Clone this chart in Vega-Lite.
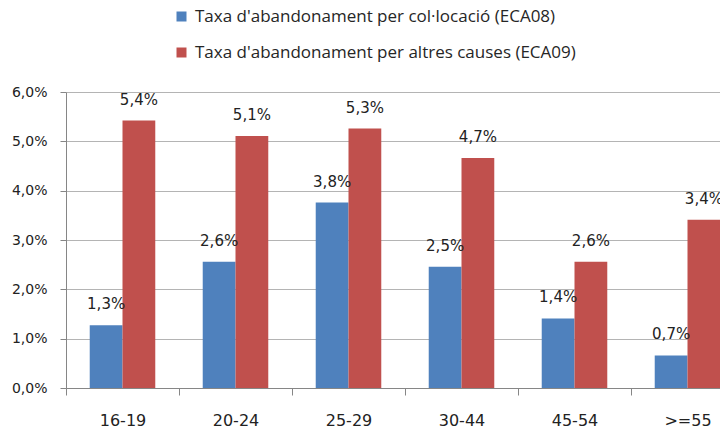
{
  "$schema": "https://vega.github.io/schema/vega-lite/v6.json",
  "width": 654,
  "height": 296,
  "autosize": {"type": "none"},
  "padding": {"left": 66, "top": 92, "right": 0, "bottom": 44},
  "background": "#ffffff",
  "config": {
    "locale": {"number": {"decimal": ",", "thousands": ".", "grouping": [3], "currency": ["", " €"]}},
    "view": {"stroke": null},
    "axis": {"labelFont": "DejaVu Sans", "labelColor": "#222222", "titleFont": "DejaVu Sans"}
  },
  "data": {
    "values": [
      {"edat": "16-19", "serie": "Taxa d'abandonament per col·locació (ECA08)", "valor": 0.0127},
      {"edat": "16-19", "serie": "Taxa d'abandonament per altres causes (ECA09)", "valor": 0.0542},
      {"edat": "20-24", "serie": "Taxa d'abandonament per col·locació (ECA08)", "valor": 0.0256},
      {"edat": "20-24", "serie": "Taxa d'abandonament per altres causes (ECA09)", "valor": 0.0511},
      {"edat": "25-29", "serie": "Taxa d'abandonament per col·locació (ECA08)", "valor": 0.0376},
      {"edat": "25-29", "serie": "Taxa d'abandonament per altres causes (ECA09)", "valor": 0.0526},
      {"edat": "30-44", "serie": "Taxa d'abandonament per col·locació (ECA08)", "valor": 0.0246},
      {"edat": "30-44", "serie": "Taxa d'abandonament per altres causes (ECA09)", "valor": 0.0466},
      {"edat": "45-54", "serie": "Taxa d'abandonament per col·locació (ECA08)", "valor": 0.0141},
      {"edat": "45-54", "serie": "Taxa d'abandonament per altres causes (ECA09)", "valor": 0.0256},
      {"edat": ">=55", "serie": "Taxa d'abandonament per col·locació (ECA08)", "valor": 0.0066},
      {"edat": ">=55", "serie": "Taxa d'abandonament per altres causes (ECA09)", "valor": 0.0341}
    ]
  },
  "encoding": {
    "x": {
      "field": "edat",
      "type": "nominal",
      "sort": ["16-19", "20-24", "25-29", "30-44", "45-54", ">=55"],
      "scale": {"range": [0, 678], "paddingInner": 0.42, "paddingOuter": 0.21},
      "axis": {
        "title": null,
        "labelAngle": 0,
        "labelFontSize": 16,
        "labelBaseline": "top",
        "labelPadding": 17,
        "tickSize": 7,
        "tickOffset": -56.5,
        "labelOffset": 56.5,
        "tickColor": "#868686",
        "domainColor": "#868686"
      }
    },
    "xOffset": {
      "field": "serie",
      "type": "nominal",
      "sort": ["Taxa d'abandonament per col·locació (ECA08)", "Taxa d'abandonament per altres causes (ECA09)"],
      "scale": {"paddingInner": 0, "paddingOuter": 0}
    },
    "y": {
      "field": "valor",
      "type": "quantitative",
      "scale": {"domain": [0, 0.06], "nice": false},
      "axis": {
        "title": null,
        "values": [0, 0.01, 0.02, 0.03, 0.04, 0.05, 0.06],
        "format": ".1%",
        "labelFontSize": 14,
        "labelPadding": 13,
        "tickSize": 6,
        "tickColor": "#868686",
        "domainColor": "#868686",
        "gridColor": "#b4b4b4",
        "grid": true
      }
    }
  },
  "layer": [
    {
      "mark": {"type": "bar"},
      "encoding": {
        "color": {
          "field": "serie",
          "type": "nominal",
          "sort": ["Taxa d'abandonament per col·locació (ECA08)", "Taxa d'abandonament per altres causes (ECA09)"],
          "scale": {
            "domain": ["Taxa d'abandonament per col·locació (ECA08)", "Taxa d'abandonament per altres causes (ECA09)"],
            "range": ["#4f81bd", "#c0504d"]
          },
          "legend": {
            "title": null,
            "orient": "none",
            "legendX": 107,
            "legendY": -84,
            "direction": "vertical",
            "padding": 0,
            "symbolType": "square",
            "symbolSize": 100,
            "symbolStrokeWidth": 0,
            "labelFont": "Open Sans",
            "labelFontSize": 17,
            "labelColor": "#262626",
            "labelOffset": 5,
            "rowPadding": 18,
            "labelLimit": 600
          }
        }
      }
    },
    {
      "mark": {"type": "text", "font": "DejaVu Sans", "fontSize": 15, "color": "#222222", "baseline": "alphabetic", "dy": -16},
      "encoding": {
        "text": {"field": "valor", "type": "quantitative", "format": ".1%"}
      }
    }
  ]
}
